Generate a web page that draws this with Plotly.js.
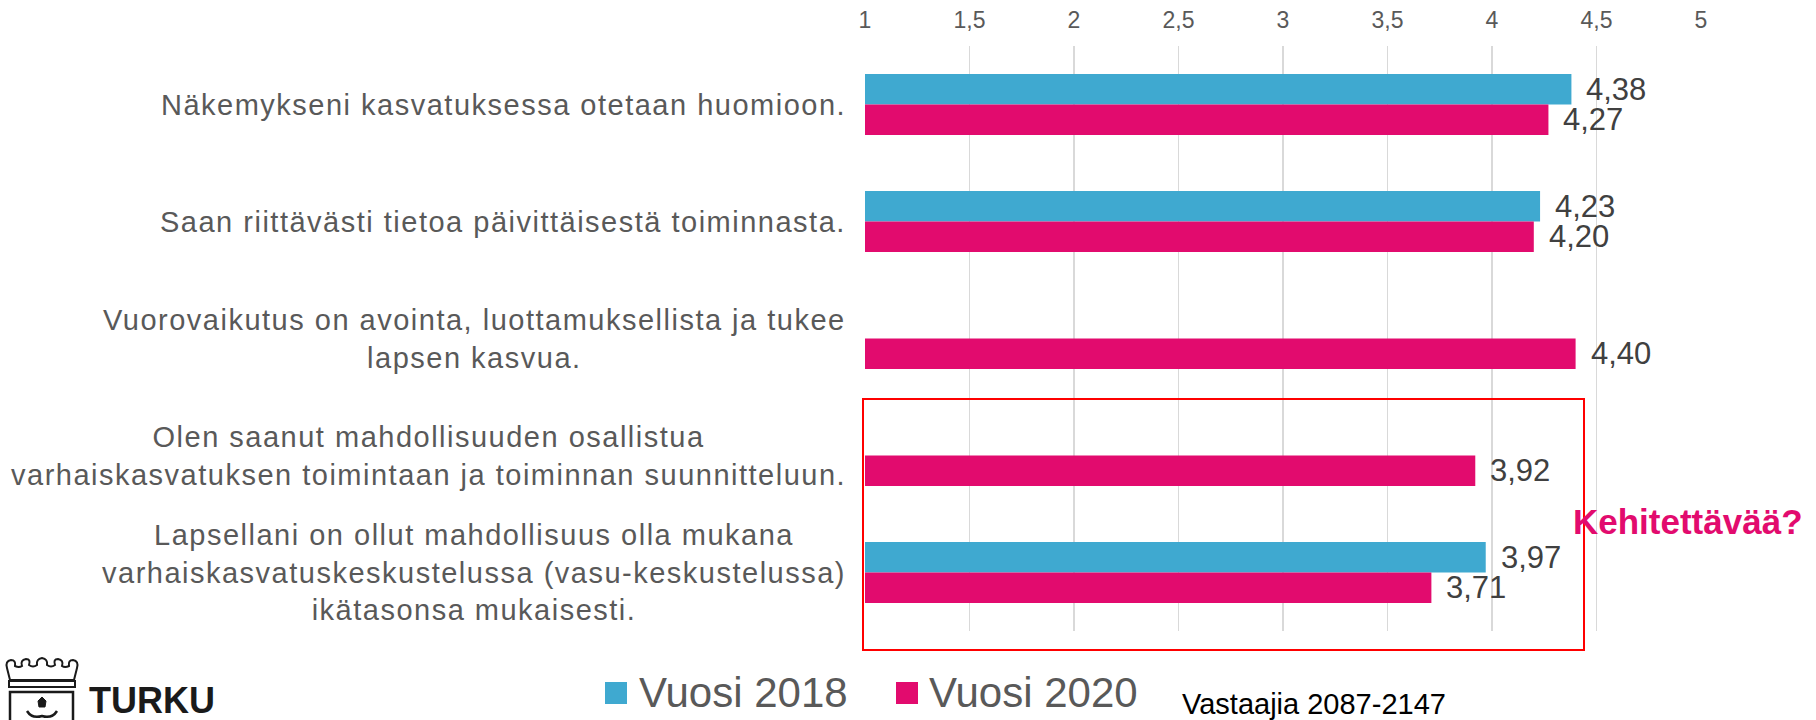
<!DOCTYPE html>
<html>
<head>
<meta charset="utf-8">
<script src="https://cdn.plot.ly/plotly-3.0.1.min.js"></script>
<style>
  html, body { margin: 0; padding: 0; background: #ffffff; }
  #chart { width: 1816px; height: 720px; }
</style>
</head>
<body>
<div id="chart"></div>
<script>
// ---------- DATA ----------
const categories = [
  'Näkemykseni kasvatuksessa otetaan huomioon.',
  'Saan riittävästi tietoa päivittäisestä toiminnasta.',
  'Vuorovaikutus on avointa, luottamuksellista ja tukee<br>lapsen kasvua.',
  'Olen saanut mahdollisuuden osallistua<br>varhaiskasvatuksen toimintaan ja toiminnan suunnitteluun.',
  'Lapsellani on ollut mahdollisuus olla mukana<br>varhaiskasvatuskeskustelussa (vasu-keskustelussa)<br>ikätasonsa mukaisesti.'
];
const vuosi2018 = [4.38, 4.23, null, null, 3.97];
const vuosi2020 = [4.27, 4.20, 4.40, 3.92, 3.71];
const seriesNames = ['Vuosi 2018', 'Vuosi 2020'];
const axisRange = [1, 5];
const axisStep = 0.5;
const footnote = 'Vastaajia 2087-2147';
const calloutText = 'Kehitettävää?';
const logoText = 'TURKU';

// ---------- STYLE ----------
const FONT = 'Liberation Sans, Arial, Helvetica, sans-serif';
const BLUE = '#3FA9D0';
const PINK = '#E20B6E';
const GREY_TEXT = '#595959';
const LABEL_TEXT = '#404040';

const W = 1816, H = 720;
const M = {l: 865, r: 115, t: 46, b: 89};
const PW = W - M.l - M.r, PH = H - M.t - M.b;
const px = x => (x - M.l) / PW;
const py = y => (M.t + PH - y) / PH;

function fmt(v) { return v.toFixed(2).replace('.', ','); }
function spaced(t, ls) {
  return t.split('<br>').map(line => '<span style="letter-spacing:' + ls + 'px">' + line + '</span>').join('<br>');
}

const traces = [
  {type: 'bar', orientation: 'h', name: seriesNames[0], y: categories, x: vuosi2018,
   marker: {color: BLUE}, hoverinfo: 'x+name'},
  {type: 'bar', orientation: 'h', name: seriesNames[1], y: categories, x: vuosi2020,
   marker: {color: PINK}, hoverinfo: 'x+name'}
];

const annotations = [];
// category labels (centered multi-line, right edge near axis)
categories.forEach(c => annotations.push({
  x: px(848), xref: 'paper', y: c, yref: 'y', xanchor: 'right', yanchor: 'middle',
  align: 'center', text: spaced(c, 1.5), showarrow: false,
  font: {family: FONT, size: 29, color: GREY_TEXT}
}));
// value labels
[vuosi2018, vuosi2020].forEach((arr, i) => arr.forEach((v, j) => {
  if (v === null) return;
  annotations.push({
    x: v, xref: 'x', y: categories[j], yref: 'y', xanchor: 'left', yanchor: 'middle',
    xshift: 13, yshift: i === 0 ? 15 : -15, text: fmt(v), showarrow: false,
    font: {family: FONT, size: 31, color: LABEL_TEXT}
  });
}));
// custom legend
const legendItems = [
  {name: seriesNames[0], color: BLUE, sq: 605, tx: 637},
  {name: seriesNames[1], color: PINK, sq: 896, tx: 927}
];
const shapes = [];
legendItems.forEach(it => {
  shapes.push({type: 'rect', xref: 'paper', yref: 'paper',
    x0: px(it.sq), x1: px(it.sq + 22), y0: py(704), y1: py(682),
    fillcolor: it.color, line: {width: 0}});
  annotations.push({x: px(it.tx), xref: 'paper', y: py(692), yref: 'paper',
    xanchor: 'left', yanchor: 'middle', text: it.name, showarrow: false,
    font: {family: FONT, size: 42, color: GREY_TEXT}});
});
// footnote
annotations.push({x: px(1180), xref: 'paper', y: py(704), yref: 'paper',
  xanchor: 'left', yanchor: 'middle', text: footnote, showarrow: false,
  font: {family: FONT, size: 29, color: '#000000'}});
// callout
annotations.push({x: px(1688), xref: 'paper', y: py(521), yref: 'paper',
  xanchor: 'center', yanchor: 'middle', text: '<b>' + calloutText + '</b>', showarrow: false,
  font: {family: FONT, size: 35, color: PINK}});
// logo text
annotations.push({x: px(87), xref: 'paper', y: py(700), yref: 'paper',
  xanchor: 'left', yanchor: 'middle', text: '<b>' + logoText + '</b>', showarrow: false,
  font: {family: FONT, size: 36, color: '#1a1a1a'}});

// red highlight box
shapes.push({type: 'rect', xref: 'paper', yref: 'paper',
  x0: px(863), x1: px(1584), y0: py(650), y1: py(399),
  line: {color: '#FF0000', width: 2}, fillcolor: 'rgba(0,0,0,0)'});

// logo drawing (crown + shield) in paper coords
function P(cmds) {
  return cmds.map(c => {
    if (typeof c === 'string') return c;
    return px(c[0]).toFixed(5) + ',' + py(c[1]).toFixed(5);
  }).join(' ');
}
const crown = P(['M', [10, 680], 'L', [7, 668], 'Q', [5, 661], [11, 660], 'Q', [16, 660], [15, 666],
  'Q', [19, 668], [22, 666], 'Q', [20, 660], [26, 659], 'Q', [31, 659], [29, 665],
  'Q', [33, 668], [37, 665], 'Q', [36, 659], [42, 658], 'Q', [48, 659], [47, 665],
  'Q', [51, 668], [55, 665], 'Q', [53, 659], [58, 659], 'Q', [64, 660], [62, 666],
  'Q', [65, 668], [69, 666], 'Q', [68, 660], [73, 660], 'Q', [79, 661], [77, 668],
  'L', [74, 680], 'Z']);
shapes.push({type: 'path', xref: 'paper', yref: 'paper', path: crown,
  line: {color: '#1a1a1a', width: 2}});
shapes.push({type: 'rect', xref: 'paper', yref: 'paper',
  x0: px(9), x1: px(75), y0: py(687), y1: py(681), line: {color: '#1a1a1a', width: 2}});
shapes.push({type: 'rect', xref: 'paper', yref: 'paper',
  x0: px(10), x1: px(73), y0: py(724), y1: py(692), line: {color: '#1a1a1a', width: 2.5}});
const fleur = P(['M', [42, 697], 'L', [46, 701], 'L', [45, 707], 'L', [39, 707], 'L', [38, 701], 'Z']);
shapes.push({type: 'path', xref: 'paper', yref: 'paper', path: fleur,
  fillcolor: '#1a1a1a', line: {color: '#1a1a1a', width: 1}});
const base = P(['M', [27, 711], 'Q', [32, 719], [42, 716], 'Q', [52, 719], [57, 711]]);
shapes.push({type: 'path', xref: 'paper', yref: 'paper', path: base,
  line: {color: '#1a1a1a', width: 2.5}});

const layout = {
  width: W, height: H,
  margin: M,
  paper_bgcolor: '#ffffff', plot_bgcolor: '#ffffff',
  separators: ', ',
  barmode: 'group', bargap: 0.48, bargroupgap: 0,
  showlegend: false,
  font: {family: FONT, color: GREY_TEXT},
  xaxis: {
    side: 'top', range: axisRange, dtick: axisStep, tick0: 1,
    showgrid: true, gridcolor: '#D9D9D9', gridwidth: 1.5,
    zeroline: false, showline: false, ticks: '',
    ticklabelstandoff: 12,
    tickfont: {family: FONT, size: 23, color: GREY_TEXT}, fixedrange: true
  },
  yaxis: {
    type: 'category', autorange: 'reversed', showticklabels: false,
    showgrid: false, zeroline: false, showline: false, ticks: '', fixedrange: true
  },
  annotations: annotations,
  shapes: shapes
};

Plotly.newPlot('chart', traces, layout, {displayModeBar: false, staticPlot: true});
</script>
</body>
</html>
